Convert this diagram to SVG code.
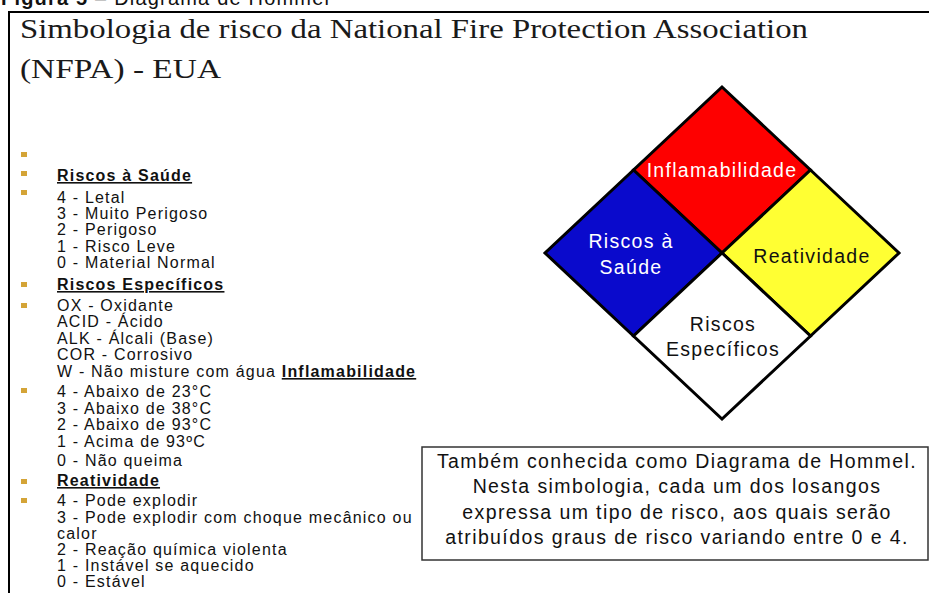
<svg xmlns="http://www.w3.org/2000/svg" width="929" height="593" viewBox="0 0 929 593">
<style>
  .title{font-family:"Liberation Serif","Times New Roman",serif;font-size:27px;fill:#1a1a1a}
  .li{font-family:"Liberation Sans",Arial,sans-serif;font-size:16px;letter-spacing:1.2px;fill:#111}
  .hd{font-weight:bold;text-decoration:underline}
  .bul{fill:#d4a437}
  .q{stroke:#000;stroke-width:3;stroke-linejoin:miter}
  .lab{font-family:"Liberation Sans",Arial,sans-serif;font-size:19.5px;letter-spacing:1.3px;text-anchor:middle}
  .box{font-family:"Liberation Sans",Arial,sans-serif;font-size:19.5px;letter-spacing:1.4px;text-anchor:middle;fill:#111}
</style>
<rect width="929" height="593" fill="#fff"/>
<g id="caption">
  <text x="1" y="5" font-family="'Liberation Sans',Arial,sans-serif" font-size="20" fill="#111" textLength="328"><tspan font-weight="bold">Figura 5</tspan> – Diagrama de Hommel</text>
</g>
<g id="frame" stroke="#000" stroke-width="2" fill="none">
  <path d="M9 12 H929 M9 11 V593"/>
</g>
<g id="title">
  <text class="title" x="20" y="38" textLength="788" lengthAdjust="spacingAndGlyphs">Simbologia de risco da National Fire Protection Association</text>
  <text class="title" x="20" y="78" textLength="201" lengthAdjust="spacingAndGlyphs">(NFPA) - EUA</text>
</g>
<g id="bullets" class="bul">
  <rect x="21" y="152" width="6" height="5"/>
  <rect x="21" y="171" width="6" height="5"/>
  <rect x="21" y="190" width="6" height="5"/>
  <rect x="21" y="282" width="6" height="5"/>
  <rect x="21" y="303" width="6" height="5"/>
  <rect x="21" y="388" width="6" height="5"/>
  <rect x="21" y="479" width="6" height="5"/>
  <rect x="21" y="498" width="6" height="5"/>
</g>
<g id="legend-list" class="li">
  <text x="57" y="181" class="hd">Riscos à Saúde</text>
  <text x="57" y="203">4 - Letal</text>
  <text x="57" y="219">3 - Muito Perigoso</text>
  <text x="57" y="235">2 - Perigoso</text>
  <text x="57" y="252">1 - Risco Leve</text>
  <text x="57" y="268">0 - Material Normal</text>
  <text x="57" y="290" class="hd">Riscos Específicos</text>
  <text x="57" y="311">OX - Oxidante</text>
  <text x="57" y="327">ACID - Ácido</text>
  <text x="57" y="344">ALK - Álcali (Base)</text>
  <text x="57" y="360">COR - Corrosivo</text>
  <text x="57" y="377">W - Não misture com água <tspan font-weight="bold" text-decoration="underline">Inflamabilidade</tspan></text>
  <text x="57" y="397">4 - Abaixo de 23°C</text>
  <text x="57" y="414">3 - Abaixo de 38°C</text>
  <text x="57" y="430">2 - Abaixo de 93°C</text>
  <text x="57" y="447">1 - Acima de 93ºC</text>
  <text x="57" y="466">0 - Não queima</text>
  <text x="57" y="486" class="hd">Reatividade</text>
  <text x="57" y="506">4 - Pode explodir</text>
  <text x="57" y="523">3 - Pode explodir com choque mecânico ou</text>
  <text x="57" y="539">calor</text>
  <text x="57" y="555">2 - Reação química violenta</text>
  <text x="57" y="571">1 - Instável se aquecido</text>
  <text x="57" y="587">0 - Estável</text>
</g>
<g id="diamond">
  <g id="q-inflamabilidade">
    <polygon class="q" fill="#fe0000" points="722,87 810.5,170 722,253 633.5,170"/>
    <text class="lab" x="722" y="177" fill="#fff">Inflamabilidade</text>
  </g>
  <g id="q-saude">
    <polygon class="q" fill="#0a0acc" points="633.5,170 722,253 633.5,336 545,253"/>
    <text class="lab" x="631" y="248" fill="#fff">Riscos à</text>
    <text class="lab" x="631" y="274" fill="#fff">Saúde</text>
  </g>
  <g id="q-reatividade">
    <polygon class="q" fill="#ffff33" points="810.5,170 899,253 810.5,336 722,253"/>
    <text class="lab" x="812" y="263" fill="#111">Reatividade</text>
  </g>
  <g id="q-especificos">
    <polygon class="q" fill="#fff" points="722,253 810.5,336 722,419 633.5,336"/>
    <text class="lab" x="723" y="331" fill="#111">Riscos</text>
    <text class="lab" x="723" y="356" fill="#111">Específicos</text>
  </g>
</g>
<g id="note">
  <rect x="422" y="447" width="506" height="113" fill="#fff" stroke="#333" stroke-width="1.5"/>
  <text class="box" x="677" y="468">Também conhecida como Diagrama de Hommel.</text>
  <text class="box" x="677" y="493">Nesta simbologia, cada um dos losangos</text>
  <text class="box" x="677" y="519">expressa um tipo de risco, aos quais serão</text>
  <text class="box" x="677" y="544">atribuídos graus de risco variando entre 0 e 4.</text>
</g>
<g id="connectors"/>
</svg>
